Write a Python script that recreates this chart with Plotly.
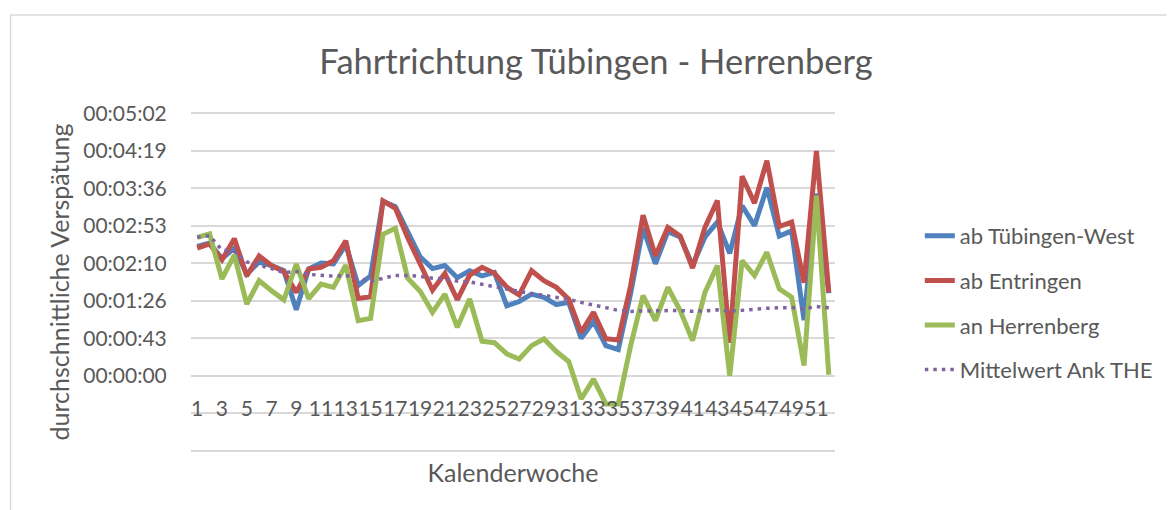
import plotly.graph_objects as go

# ---- data (seconds of average delay per calendar week) ----
weeks = list(range(1, 53))

ab_tuebingen_west = [149, 153, 135, 147, 117, 131, 127, 121, 76, 123,
                     130, 129, 151, 104, 115, 201, 195, 165, 137, 123.5,
                     127, 113, 121, 115, 119, 80.6, 85.5, 94, 90.3, 82,
                     84.5, 43, 62.5, 34.5, 30, 95, 170, 129, 166, 160,
                     127, 160, 177, 141, 196, 173, 217, 161, 167, 64,
                     210, 95]

ab_entringen = [147, 152, 133.5, 158, 115, 138, 127, 120, 96, 123,
                125, 132.5, 155.5, 89, 91, 201.5, 193, 159, 129, 98.5,
                118, 87.5, 116, 125, 118, 102, 93, 121, 109.5, 101.8,
                88.3, 50, 73, 42.5, 41, 104, 185, 138, 171, 161,
                124, 171, 202, 38, 230, 199, 248, 172, 177, 107,
                259, 96]

an_herrenberg = [159.5, 163.5, 111.5, 139, 82.6, 109.5, 98, 87.4, 128.7, 88.7,
                 105.6, 101.8, 127.5, 63.4, 66, 163, 170, 112.4, 97.3, 73,
                 94.1, 55.7, 88.4, 39.7, 38, 25, 19.2, 34.6, 42.3, 27.8,
                 16.3, -27, -4, -32.7, -32.7, 34.6, 92.3, 63.4, 101.9, 75,
                 40.4, 96.1, 126.9, 0, 132.7, 115.4, 142.3, 100, 90.4, 11.5,
                 207.6, 1]

mittelwert_ank_the = [159.5, 161.5, 144.8, 143.4, 131.2, 127.6, 123.4, 118.9, 120.0, 116.8,
                      115.8, 114.7, 115.6, 111.9, 108.8, 112.2, 115.6, 115.5, 114.5, 112.4,
                      111.5, 109.0, 108.1, 105.3, 102.6, 99.6, 96.6, 94.4, 92.6, 90.4,
                      88.0, 84.5, 81.8, 78.4, 75.2, 74.1, 74.6, 74.3, 75.0, 75.0,
                      74.2, 74.7, 75.9, 74.2, 75.5, 76.3, 77.7, 78.2, 78.5, 77.1,
                      79.7, 78.2]

series_names = ["ab Tübingen-West", "ab Entringen", "an Herrenberg", "Mittelwert Ank THE"]

x_tick_weeks = [w for w in weeks if w % 2 == 1]
y_step = 43.2
y_ticks = [y_step * i for i in range(-2, 8)]


def hms(sec):
    s = int(round(sec))
    return "%02d:%02d:%02d" % (s // 3600, (s % 3600) // 60, s % 60)


y_ticktext = [hms(v) if v >= 0 else "" for v in y_ticks]

FONT = "Lato"
TXT = "#595959"

fig = go.Figure()
styles = [
    dict(color="#4F81BD", width=5),
    dict(color="#C0504D", width=5),
    dict(color="#9BBB59", width=5),
    dict(color="#8064A2", width=3.5, dash="3.5px,5px"),
]
for name, vals, st in zip(series_names,
                          [ab_tuebingen_west, ab_entringen, an_herrenberg, mittelwert_ank_the],
                          styles):
    fig.add_trace(go.Scatter(x=weeks, y=vals, mode="lines", name=name,
                             legendgroup=name, line=st))

W, H = 1170, 510
L, R, T, B = 191, 326, 110, 56
pw, ph = W - L - R, H - T - B
pad = 4.0  # seconds of padding so edge gridlines are kept


def px_x(p):
    return (p - L) / pw


def px_y(p):
    return (H - B - p) / ph


border = dict(color="#D9D9D9", width=1.5)

fig.update_layout(
    width=W, height=H,
    margin=dict(l=L, r=R, t=T, b=B),
    paper_bgcolor="white", plot_bgcolor="white",
    font=dict(family=FONT, color=TXT, size=21),
    title=dict(text="Fahrtrichtung Tübingen - Herrenberg",
               font=dict(family=FONT, size=34.5, color=TXT),
               x=596 / W, xanchor="center", xref="container",
               y=1 - 62 / H, yanchor="middle", yref="container"),
    legend=dict(x=px_x(930), xanchor="left", y=px_y(303), yanchor="middle",
                font=dict(family=FONT, size=22, color=TXT),
                tracegroupgap=13, traceorder="grouped", bgcolor="rgba(0,0,0,0)"),
    xaxis=dict(range=[0.5, 52.5], tickmode="array", tickvals=x_tick_weeks,
               ticktext=[str(w) for w in x_tick_weeks], tickangle=0,
               showgrid=False, zeroline=False, showline=False,
               anchor="free", position=(0 + 86.4 + pad) / (388.8 + 2 * pad),
               ticks="outside", ticklen=14, tickcolor="rgba(0,0,0,0)",
               tickfont=dict(family=FONT, size=21, color=TXT),
               title=dict(text="Kalenderwoche", standoff=45,
                          font=dict(family=FONT, size=25, color=TXT))),
    yaxis=dict(range=[-86.4 - pad, 302.4 + pad], tickmode="array", tickvals=y_ticks,
               ticktext=y_ticktext, showgrid=True, gridcolor="#D9D9D9",
               gridwidth=1.5, zeroline=False, showline=False,
               ticks="outside", ticklen=19, tickcolor="rgba(0,0,0,0)",
               tickfont=dict(family=FONT, size=21, color=TXT),
               title=dict(text="durchschnittliche Verspätung", standoff=6,
                          font=dict(family=FONT, size=25, color=TXT))),
    shapes=[
        dict(type="line", xref="paper", yref="paper",
             x0=px_x(8), x1=px_x(8), y0=px_y(530), y1=px_y(15),
             line=border, layer="below"),
        dict(type="line", xref="paper", yref="paper",
             x0=px_x(8), x1=px_x(1180), y0=px_y(15), y1=px_y(15),
             line=border, layer="below"),
    ],
    showlegend=True,
)

fig.write_html(
    "out.html", config={"displayModeBar": False},
    post_script=("document.body.style.margin='0px';"
                 "document.body.style.overflow='hidden';"
                 "document.documentElement.style.overflow='hidden';"))
